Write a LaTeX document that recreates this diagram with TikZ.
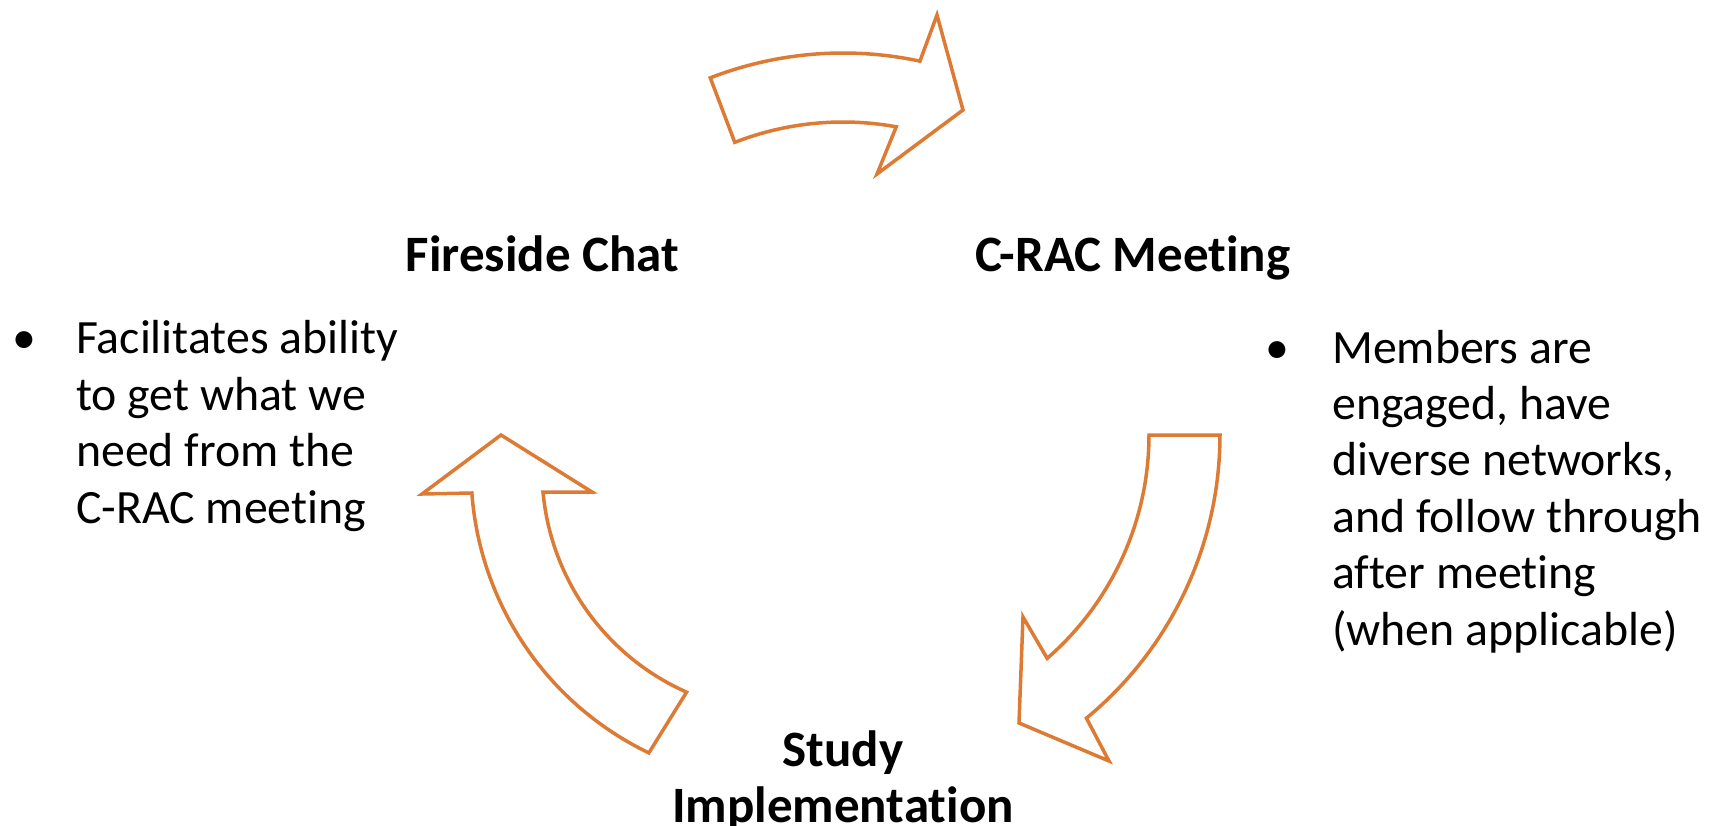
\documentclass[tikz,border=0pt]{standalone}
\usepackage{fontspec}
\setmainfont{Carlito}[Ligatures=CommonOff]
\definecolor{arrorange}{RGB}{221,122,52}
\begin{document}
\begin{tikzpicture}[x=1pt,y=-1pt,
  cyclearrow/.style={draw=arrorange,line width=3.5pt,line join=miter,fill=white},
  heading/.style={font=\fontsize{51}{56}\selectfont\bfseries,inner sep=0pt,anchor=base,align=center},
  bulletmark/.style={font=\fontsize{47.8}{56.5}\selectfont,inner sep=0pt,anchor=base},
  bullettext/.style={font=\fontsize{47.8}{56.5}\selectfont,inner sep=0pt,anchor=base west}]
\useasboundingbox (0,0) rectangle (1709,826);
% top arrow (Fireside Chat -> C-RAC Meeting)
\draw[cyclearrow] plot[domain=-111.2:-77.9,samples=40] ({843+367*cos(\x)},{420+367*sin(\x)})
  -- (937,15) -- (963,110) -- (877,174)
  -- plot[domain=-79.7:-111.3,samples=40] ({843+298*cos(\x)},{420+298*sin(\x)}) -- cycle;
% right arrow (C-RAC Meeting -> Study Implementation)
\draw[cyclearrow] plot[domain=0:50.5,samples=40] ({853+367*cos(\x)},{435+367*sin(\x)})
  -- (1109,761) -- (1019,723) -- (1023,617)
  -- plot[domain=49:0,samples=40] ({853+296*cos(\x)},{435+296*sin(\x)}) -- cycle;
% left arrow (Study Implementation -> Fireside Chat)
\draw[cyclearrow] plot[domain=115.7:175.8,samples=40] ({785+314*cos(\x)},{470+314*sin(\x)})
  -- (422,494) -- (501,435) -- (592,492)
  -- plot[domain=174.8:113.9,samples=40] ({785+243*cos(\x)},{470+243*sin(\x)}) -- cycle;
% headings
\node[heading] (fireside) at (542.5,272) {Fireside Chat};
\node[heading] (crac) at (1133,272) {C-RAC Meeting};
\node[heading] (study) at (843,766) {Study};
\node[heading] (impl) at (843,822) {Implementation};
% bullets
\node[bulletmark] (b1) at (24,354) {•};
\node[bullettext] (t1) at (76,354) {\parbox[t]{400pt}{\raggedright Facilitates ability\\to get what we\\need from the\\C-RAC meeting}};
\node[bulletmark] (b2) at (1277,363) {•};
\node[bullettext] (t2) at (1332,363) {\parbox[t]{400pt}{\raggedright Members are\\engaged, have\\diverse networks,\\and follow through\\after meeting\\(when applicable)}};
\end{tikzpicture}
\end{document}
